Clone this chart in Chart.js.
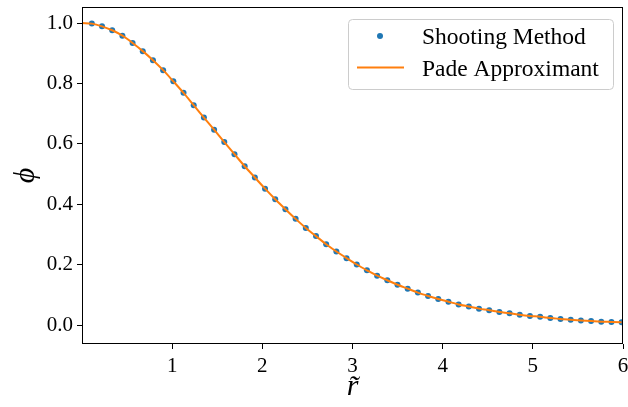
<!DOCTYPE html>
<html>
<head>
<meta charset="utf-8">
<script src="https://cdn.jsdelivr.net/npm/chart.js@4"></script>
<style>
  html, body { margin: 0; padding: 0; background: #fff; }
  #wrap { width: 628px; height: 407px; }
</style>
</head>
<body>
<div id="wrap"><canvas id="chart" width="628" height="407"></canvas></div>
<script>
// shooting method samples (r tilde, phi)
const shootR = [
  0.109, 0.222, 0.335, 0.448, 0.561, 0.674, 0.787, 0.900, 1.013, 1.126,
  1.239, 1.352, 1.465, 1.578, 1.691, 1.804, 1.917, 2.030, 2.143, 2.256,
  2.369, 2.482, 2.595, 2.708, 2.821, 2.934, 3.047, 3.160, 3.273, 3.386,
  3.499, 3.612, 3.725, 3.838, 3.951, 4.064, 4.177, 4.290, 4.403, 4.516,
  4.629, 4.742, 4.855, 4.968, 5.081, 5.194, 5.307, 5.420, 5.533, 5.646,
  5.759, 5.872, 5.985
];
const shootPhi = [
  0.998, 0.989, 0.976, 0.958, 0.934, 0.907, 0.877, 0.844, 0.807, 0.769,
  0.728, 0.687, 0.647, 0.606, 0.566, 0.526, 0.489, 0.452, 0.417, 0.384,
  0.352, 0.322, 0.295, 0.268, 0.244, 0.222, 0.201, 0.182, 0.164, 0.149,
  0.134, 0.121, 0.108, 0.097, 0.087, 0.078, 0.069, 0.062, 0.055, 0.050,
  0.044, 0.040, 0.035, 0.031, 0.028, 0.024, 0.021, 0.018, 0.016, 0.014,
  0.012, 0.011, 0.010
];
// pade approximant curve, starts at r = 0
const padeR = [0].concat(shootR);
const padePhi = [1.0].concat(shootPhi);

const xTicks = [1, 2, 3, 4, 5, 6];
const yTicks = [0.0, 0.2, 0.4, 0.6, 0.8, 1.0];

const serif = '"Liberation Serif", "DejaVu Serif", serif';

// matplotlib-like frame + legend
const framePlugin = {
  id: 'frame',
  afterDatasetsDraw(chart) {
    const { ctx, chartArea: a } = chart;
    ctx.save();
    ctx.strokeStyle = '#000';
    ctx.lineWidth = 1;
    ctx.strokeRect(Math.round(a.left) + 0.5, Math.round(a.top) + 0.5,
      Math.round(a.right - a.left) - 1, Math.round(a.bottom - a.top) - 1);

    // legend box
    const w = 265, h = 70;
    const x0 = Math.round(a.right - 10 - w), y0 = Math.round(a.top + 12);
    ctx.beginPath();
    ctx.roundRect(x0 + 0.5, y0 + 0.5, w, h, 4);
    ctx.fillStyle = 'rgba(255,255,255,0.8)';
    ctx.fill();
    ctx.strokeStyle = '#cccccc';
    ctx.stroke();

    const ds = chart.data.datasets;
    ctx.font = '23.5px ' + serif;
    ctx.fillStyle = '#000';
    ctx.textBaseline = 'alphabetic';
    // row 1: dots
    ctx.beginPath();
    ctx.arc(x0 + 32, y0 + 17, 3, 0, Math.PI * 2);
    ctx.fillStyle = ds[0].backgroundColor;
    ctx.fill();
    ctx.fillStyle = '#000';
    ctx.fillText(ds[0].label, x0 + 74, y0 + 25);
    // row 2: line
    ctx.beginPath();
    ctx.moveTo(x0 + 9, y0 + 48.5);
    ctx.lineTo(x0 + 56, y0 + 48.5);
    ctx.strokeStyle = ds[1].borderColor;
    ctx.lineWidth = 2;
    ctx.stroke();
    ctx.fillText(ds[1].label, x0 + 74, y0 + 57);
    ctx.restore();
  }
};

new Chart(document.getElementById('chart'), {
  type: 'scatter',
  data: {
    datasets: [
      {
        label: 'Shooting Method',
        data: shootR.map((r, i) => ({ x: r, y: shootPhi[i] })),
        backgroundColor: '#1f77b4',
        borderColor: '#1f77b4',
        pointRadius: 3,
        pointBorderWidth: 0,
        order: 1
      },
      {
        label: 'Pade Approximant',
        data: padeR.map((r, i) => ({ x: r, y: padePhi[i] })),
        showLine: true,
        borderColor: '#ff7f0e',
        backgroundColor: '#ff7f0e',
        borderWidth: 2,
        pointRadius: 0,
        cubicInterpolationMode: 'monotone',
        order: 0
      }
    ]
  },
  options: {
    responsive: false,
    animation: false,
    layout: { padding: { left: 0, top: 7, right: 5, bottom: 0 } },
    plugins: { legend: { display: false }, tooltip: { enabled: false } },
    scales: {
      x: {
        type: 'linear',
        min: 0,
        max: 6,
        afterBuildTicks: (s) => { s.ticks = xTicks.map(v => ({ value: v })); },
        afterFit: (s) => { s.height = 63; s.paddingLeft = 0; s.paddingRight = 0; },
        ticks: {
          font: { family: serif, size: 21 },
          color: '#000',
          padding: 5,
          maxRotation: 0,
          autoSkip: false,
          includeBounds: false
        },
        grid: { drawOnChartArea: false, drawTicks: true, tickLength: 5, color: '#000' },
        border: { display: false },
        title: {
          display: true,
          text: 'r\u0303',
          font: { family: serif, size: 30, style: 'italic' },
          color: '#000',
          padding: { top: 0, bottom: 2 }
        }
      },
      y: {
        type: 'linear',
        min: -0.062,
        max: 1.053,
        afterBuildTicks: (s) => { s.ticks = yTicks.map(v => ({ value: v })); },
        afterFit: (s) => { s.width = 82; s.paddingTop = 0; s.paddingBottom = 0; },
        ticks: {
          font: { family: serif, size: 21 },
          color: '#000',
          padding: 4,
          callback: (v) => v.toFixed(1),
          includeBounds: false
        },
        grid: { drawOnChartArea: false, drawTicks: true, tickLength: 5, color: '#000' },
        border: { display: false },
        title: {
          display: true,
          text: '\u03d5',
          font: { family: serif, size: 30, style: 'italic' },
          color: '#000',
          padding: { top: 8, bottom: 0 }
        }
      }
    }
  },
  plugins: [framePlugin]
});
</script>
</body>
</html>
